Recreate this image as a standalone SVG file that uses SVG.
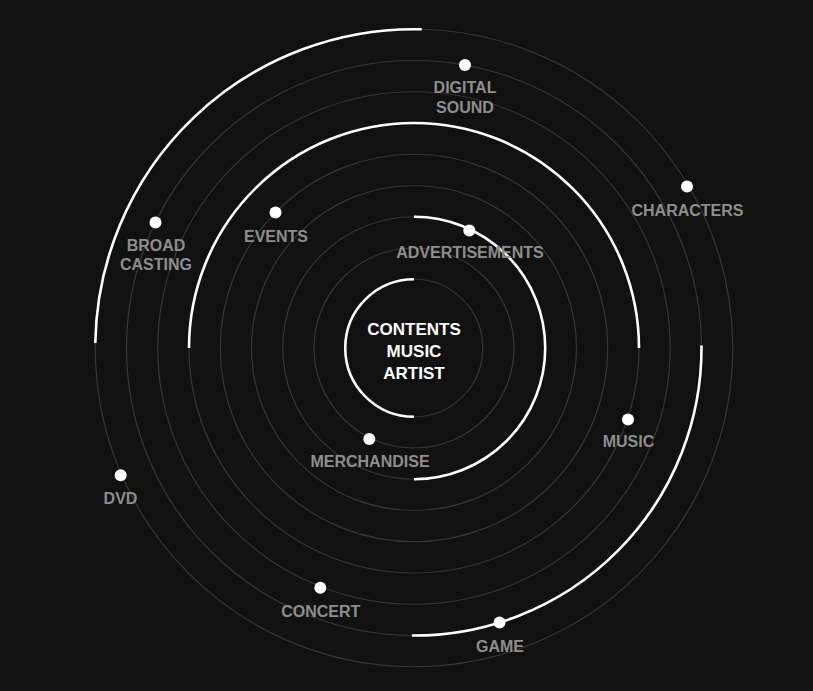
<svg xmlns="http://www.w3.org/2000/svg" width="813" height="691" viewBox="0 0 813 691">
<style>
.ring{fill:none;stroke:#363636;stroke-width:1.2}
.arc{fill:none;stroke:#ffffff;stroke-width:2.6;stroke-linecap:butt}
.dot{fill:#ffffff}
.lbl{font-family:"Liberation Sans",Arial,sans-serif;font-weight:bold;font-size:16px;fill:#8e8e8e;text-anchor:middle}
.ctr{font-family:"Liberation Sans",Arial,sans-serif;font-weight:bold;font-size:17px;fill:#ffffff;text-anchor:middle}
</style>
<rect width="813" height="691" fill="#111111"/>
<g id="rings">
<circle class="ring" cx="414" cy="348" r="68.75"/>
<circle class="ring" cx="414" cy="348" r="100"/>
<circle class="ring" cx="414" cy="348" r="131.25"/>
<circle class="ring" cx="414" cy="348" r="162.5"/>
<circle class="ring" cx="414" cy="348" r="193.75"/>
<circle class="ring" cx="414" cy="348" r="225"/>
<circle class="ring" cx="414" cy="348" r="256.25"/>
<circle class="ring" cx="414" cy="348" r="287.5"/>
<circle class="ring" cx="414" cy="348" r="318.75"/>
</g>
<g id="connectors">
<path class="arc" d="M414,279.25 A68.75,68.75 0 0 0 414,416.75"/>
<path class="arc" d="M414,216.75 A131.25,131.25 0 0 1 414,479.25"/>
<path class="arc" d="M189,348 A225,225 0 0 1 639,348"/>
<path class="arc" d="M95.3,343 A318.75,318.75 0 0 1 421.8,29.3"/>
<path class="arc" d="M701.5,345.5 A287.5,287.5 0 0 1 412,635.5"/>
</g>
<g id="center">
<text class="ctr" x="414" y="335">CONTENTS</text>
<text class="ctr" x="414" y="357.3">MUSIC</text>
<text class="ctr" x="414" y="379.3">ARTIST</text>
</g>
<g id="digital-sound">
<circle class="dot" cx="465" cy="65" r="6"/>
<text class="lbl" x="465" y="92.7">DIGITAL</text>
<text class="lbl" x="465" y="112.5">SOUND</text>
</g>
<g id="characters">
<circle class="dot" cx="687" cy="186.5" r="6"/>
<text class="lbl" x="687.5" y="215.5">CHARACTERS</text>
</g>
<g id="broadcasting">
<circle class="dot" cx="155.5" cy="222.5" r="6"/>
<text class="lbl" x="156" y="250.7">BROAD</text>
<text class="lbl" x="156" y="270">CASTING</text>
</g>
<g id="events">
<circle class="dot" cx="275.5" cy="212.5" r="6"/>
<text class="lbl" x="276" y="241.7">EVENTS</text>
</g>
<g id="advertisements">
<circle class="dot" cx="469.3" cy="230.5" r="6"/>
<text class="lbl" x="470" y="258.3">ADVERTISEMENTS</text>
</g>
<g id="merchandise">
<circle class="dot" cx="369.3" cy="439" r="6"/>
<text class="lbl" x="370" y="467.3">MERCHANDISE</text>
</g>
<g id="music">
<circle class="dot" cx="628" cy="419.5" r="6"/>
<text class="lbl" x="628.5" y="447.3">MUSIC</text>
</g>
<g id="dvd">
<circle class="dot" cx="120.7" cy="475.3" r="6"/>
<text class="lbl" x="120.5" y="503.7">DVD</text>
</g>
<g id="concert">
<circle class="dot" cx="320.3" cy="587.7" r="6"/>
<text class="lbl" x="320.7" y="616.7">CONCERT</text>
</g>
<g id="game">
<circle class="dot" cx="499.5" cy="622.5" r="6"/>
<text class="lbl" x="500" y="651.7">GAME</text>
</g>
</svg>
